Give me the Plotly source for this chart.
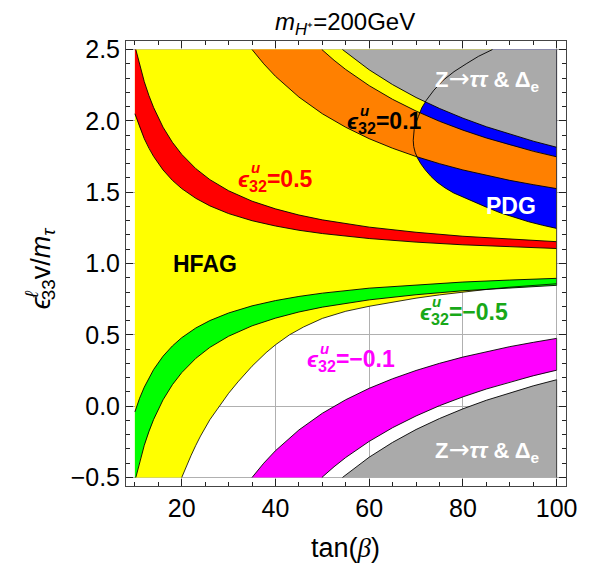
import plotly.graph_objects as go

# ---------------- data ----------------
# HFAG (yellow) lower boundary
hfag_lo_x = [20, 21, 22, 23, 24, 26, 28, 30, 32, 35, 38, 40, 43, 46, 50, 55, 60, 65, 70, 75, 80, 85, 90, 95, 100]
hfag_lo_y = [-0.5, -0.42, -0.345, -0.275, -0.21, -0.095, 0.0, 0.09, 0.17, 0.28, 0.375, 0.43, 0.5, 0.555, 0.615, 0.665, 0.70, 0.73, 0.757, 0.78, 0.80, 0.818, 0.834, 0.847, 0.858]

# eps32 = 0.5 (red) band
red_up_x = [10.2, 11, 12, 13, 14, 16, 18, 20, 23, 26, 30, 35, 40, 45, 50, 60, 70, 80, 90, 100]
red_up_y = [2.5, 2.391, 2.275, 2.177, 2.093, 1.956, 1.85, 1.765, 1.665, 1.588, 1.51, 1.437, 1.383, 1.34, 1.306, 1.255, 1.219, 1.191, 1.17, 1.153]
red_lo_x = [10, 11, 12, 13, 14, 16, 18, 20, 23, 26, 30, 35, 40, 45, 50, 60, 70, 80, 90, 100]
red_lo_y = [2.05, 1.955, 1.875, 1.808, 1.75, 1.656, 1.583, 1.525, 1.457, 1.404, 1.35, 1.30, 1.263, 1.233, 1.21, 1.175, 1.15, 1.131, 1.117, 1.105]

# eps32 = -0.5 (green) band
grn_up_x = [10, 11, 12, 13, 14, 16, 18, 20, 23, 26, 30, 35, 40, 45, 50, 60, 70, 80, 90, 100]
grn_up_y = [-0.04, 0.055, 0.133, 0.2, 0.257, 0.35, 0.422, 0.48, 0.548, 0.6, 0.653, 0.703, 0.74, 0.769, 0.792, 0.827, 0.851, 0.87, 0.884, 0.896]
grn_lo_x = [10.2, 11, 12, 13, 14, 16, 18, 20, 23, 26, 30, 35, 40, 45, 50, 60, 70, 80, 90, 100]
grn_lo_y = [-0.5, -0.391, -0.275, -0.177, -0.093, 0.044, 0.15, 0.235, 0.335, 0.412, 0.49, 0.563, 0.617, 0.66, 0.694, 0.745, 0.781, 0.809, 0.83, 0.847]

# eps32 = 0.1 (orange) band
org_lo_x = [35, 37.5, 40, 45, 50, 55, 60, 65, 70, 75, 80, 85, 90, 95, 100]
org_lo_y = [2.5, 2.4, 2.3125, 2.167, 2.05, 1.955, 1.875, 1.808, 1.75, 1.70, 1.656, 1.618, 1.583, 1.553, 1.525]
org_up_x = [49.9, 52.5, 55, 60, 65, 70, 75, 80, 85, 90, 95, 100]
org_up_y = [2.5, 2.425, 2.36, 2.247, 2.151, 2.069, 1.997, 1.935, 1.88, 1.831, 1.787, 1.748]

# eps32 = -0.1 (magenta) band
mag_up_x = [35, 37.5, 40, 45, 50, 55, 60, 65, 70, 75, 80, 85, 90, 95, 100]
mag_up_y = [-0.5, -0.4, -0.3125, -0.167, -0.05, 0.045, 0.125, 0.192, 0.25, 0.30, 0.344, 0.382, 0.417, 0.447, 0.475]
mag_lo_x = [49.9, 52.5, 55, 60, 65, 70, 75, 80, 85, 90, 95, 100]
mag_lo_y = [-0.5, -0.425, -0.36, -0.247, -0.151, -0.069, 0.003, 0.065, 0.12, 0.169, 0.213, 0.252]

# Z->tautau & Delta_e excluded (gray) boundaries
gry_up_x = [54.3, 57, 60, 65, 70, 75, 80, 85, 90, 95, 100]
gry_up_y = [2.5, 2.43, 2.358, 2.254, 2.164, 2.087, 2.019, 1.959, 1.906, 1.858, 1.815]
gry_lo_x = [54.3, 57, 60, 65, 70, 75, 80, 85, 90, 95, 100]
gry_lo_y = [-0.5, -0.43, -0.358, -0.254, -0.164, -0.087, -0.019, 0.041, 0.094, 0.142, 0.185]

# PDG (blue) boundary
pdg_x = [86.3, 83.3, 80.7, 78.1, 75.8, 73.8, 72.2, 71.2, 70.5, 69.9, 69.6, 69.4, 69.5, 69.8, 70.3, 71.0, 72.0, 73.2, 74.5, 76.2, 78, 80, 82, 85, 88, 91, 94, 97, 100]
pdg_y = [2.5, 2.452, 2.40, 2.345, 2.285, 2.215, 2.145, 2.09, 2.03, 1.98, 1.94, 1.864, 1.82, 1.78, 1.74, 1.70, 1.655, 1.61, 1.57, 1.53, 1.495, 1.465, 1.435, 1.395, 1.355, 1.322, 1.293, 1.268, 1.246]

XMIN, XMAX, YMIN, YMAX = 10, 100, -0.5, 2.5

YELLOW = "#FFFF00"; RED = "#FF0000"; ORANGE = "#FF8000"; GREEN = "#00FF00"
BLUE = "#0000FF"; MAGENTA = "#FF00FF"; GRAY = "#AAAAAA"

fig = go.Figure()

def fill(xs, ys, color):
    fig.add_trace(go.Scatter(x=xs, y=ys, mode="lines", fill="toself", fillcolor=color,
                             line=dict(width=0), hoverinfo="skip", showlegend=False))

def line(xs, ys, w=0.9, color="black"):
    fig.add_trace(go.Scatter(x=xs, y=ys, mode="lines", line=dict(color=color, width=w),
                             hoverinfo="skip", showlegend=False))

# yellow HFAG region
fill([XMIN] + hfag_lo_x + [XMAX, XMIN], [YMIN] + hfag_lo_y + [YMAX, YMAX], YELLOW)
# blue PDG region
fill(pdg_x + [XMAX], pdg_y + [YMAX], BLUE)
# orange band
fill(org_lo_x + org_up_x[::-1], org_lo_y + org_up_y[::-1], ORANGE)
# red band
fill(red_up_x + red_lo_x[::-1] + [XMIN], red_up_y + red_lo_y[::-1] + [YMAX], RED)
# green band
fill(grn_up_x + grn_lo_x[::-1] + [XMIN], grn_up_y + grn_lo_y[::-1] + [YMIN], GREEN)
# magenta band
fill(mag_up_x + mag_lo_x[::-1], mag_up_y + mag_lo_y[::-1], MAGENTA)
# gray regions
fill(gry_up_x + [XMAX], gry_up_y + [YMAX], GRAY)
fill(gry_lo_x + [XMAX], gry_lo_y + [YMIN], GRAY)

# boundary lines
line(hfag_lo_x, hfag_lo_y, 0.8)
for xs, ys in [(red_up_x, red_up_y), (red_lo_x, red_lo_y), (grn_up_x, grn_up_y), (grn_lo_x, grn_lo_y),
               (org_lo_x, org_lo_y), (org_up_x, org_up_y), (mag_up_x, mag_up_y), (mag_lo_x, mag_lo_y),
               (gry_up_x, gry_up_y), (gry_lo_x, gry_lo_y), (pdg_x, pdg_y)]:
    line(xs, ys)

# right-hand closing edges of the coloured regions
line([XMAX, XMAX], [grn_lo_y[-1], YMAX], 0.9, "#333333")
line([XMAX, XMAX], [mag_lo_y[-1], mag_up_y[-1]], 0.9, "#333333")
line([XMAX, XMAX], [YMIN, gry_lo_y[-1]], 0.9, "#333333")

FONT = "Liberation Sans, Arial, sans-serif"

def ann(x, y, text, size, color, **kw):
    fig.add_annotation(x=x, y=y, xref="x", yref="y", text=text, showarrow=False,
                       font=dict(family=FONT, size=size, color=color), **kw)

# region labels
ZLABEL = ("<b>Z<span style='font-family:DejaVu Sans;font-weight:normal;font-size:25px'>→</span>"
          "<i>ττ</i> &amp; Δ<sub>e</sub></b>")
ann(24.9, 1.0, "<b>HFAG</b>", 23, "black")
ann(90.2, 1.40, "<b>PDG</b>", 23, "white")
ann(85.3, 2.29, ZLABEL, 22, "white")
ann(85.3, -0.31, ZLABEL, 22, "white")

# epsilon labels (main text + stacked superscript u)
def eps_label(x, y, ux, uy, val, color):
    ann(x, y, "<b><i>ϵ</i><sub>32</sub>=" + val + "</b>", 23, color, xanchor="left", yanchor="middle")
    ann(ux, uy, "<b><i>u</i></b>", 15, color, yanchor="middle")

eps_label(31.6, 1.584, 35.7, 1.67, "0.5", RED)
eps_label(54.9, 1.99, 58.9, 2.07, "0.1", "black")
eps_label(70.4, 0.652, 74.4, 0.735, "−0.5", "#18A818")
eps_label(46.4, 0.32, 50.4, 0.405, "−0.1", MAGENTA)

# axis titles and plot title (paper coords)
fig.add_annotation(x=0.498, y=-0.139, xref="paper", yref="paper", showarrow=False,
                   text="tan(<i><span style='font-family:Liberation Serif'>β</span></i>)",
                   font=dict(family=FONT, size=27, color="black"), xanchor="center", yanchor="middle")
fig.add_annotation(x=-0.19, y=0.49, xref="paper", yref="paper", showarrow=False, textangle=-90,
                   text="<i>ϵ</i><sup><i><span style='letter-spacing:-9px'>ℓ</span></i></sup><sub>33</sub>v/<i>m</i><sub><i>τ</i></sub>",
                   font=dict(family=FONT, size=27, color="black"), xanchor="center", yanchor="middle")
fig.add_annotation(x=0.497, y=1.04, xref="paper", yref="paper", showarrow=False,
                   text="<i>m</i><sub><i>H</i>⁺</sub>=200GeV",
                   font=dict(family=FONT, size=24, color="black"), xanchor="center", yanchor="middle")

axis_common = dict(showline=True, linecolor="#444444", linewidth=1, mirror="ticks",
                   ticks="inside", ticklen=7, tickcolor="#222222", tickwidth=1,
                   showgrid=True, gridcolor="#B0B0B0", gridwidth=1, zeroline=False,
                   ticklabeloverflow="allow",
                   tickfont=dict(family=FONT, size=25, color="black"))

fig.update_xaxes(range=[8.1, 102.0], tick0=0, dtick=20,
                 minor=dict(ticks="inside", ticklen=4, dtick=5, tick0=0, tickcolor="#222222", showgrid=False),
                 **axis_common)
fig.update_yaxes(range=[-0.56, 2.56], tick0=0, dtick=0.5, tickformat=".1f",
                 minor=dict(ticks="inside", ticklen=4, dtick=0.1, tick0=0, tickcolor="#222222", showgrid=False),
                 **axis_common)

# the page body has an 8px margin, so the figure is made 8px smaller and margins shifted
fig.update_layout(width=581, height=561, margin=dict(l=118, r=17, t=33, b=83),
                  plot_bgcolor="white", paper_bgcolor="white", showlegend=False)

fig.write_html("out.html")
